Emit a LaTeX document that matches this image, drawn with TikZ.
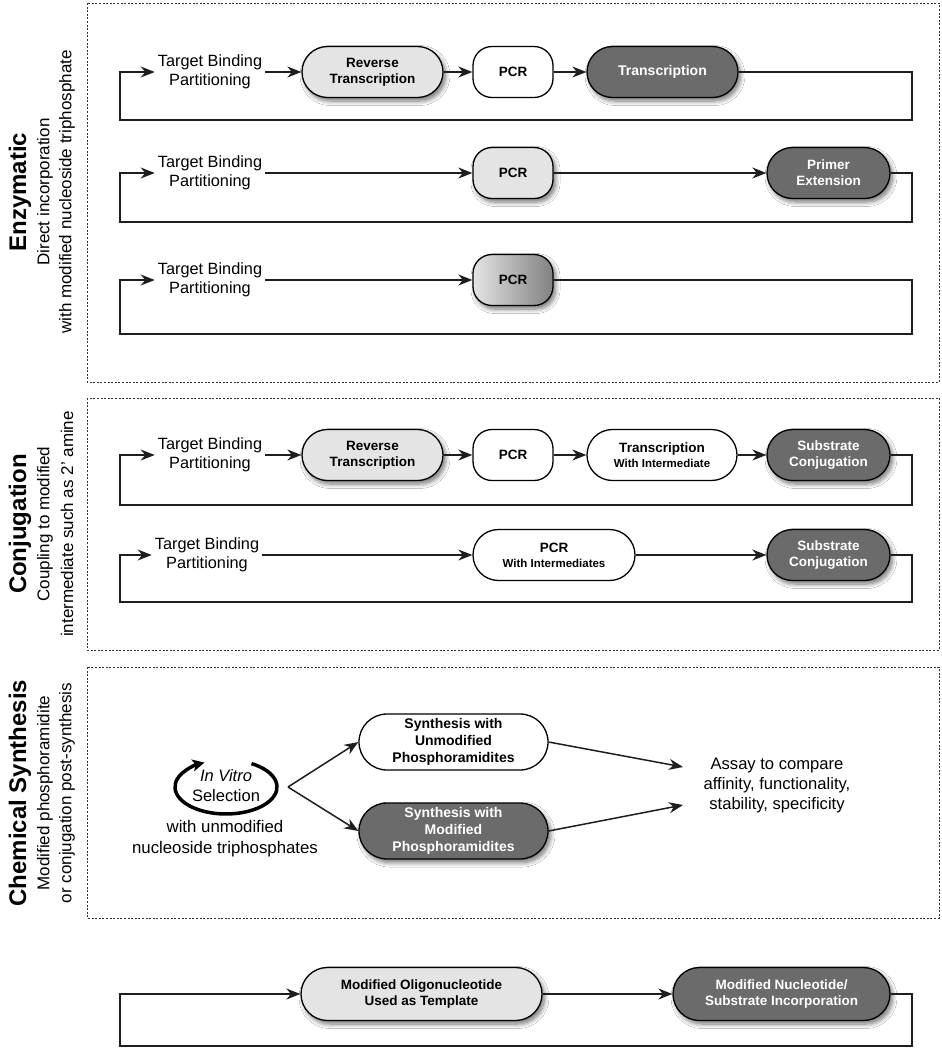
\documentclass[tikz,border=0pt]{standalone}
\usepackage{fontspec}
\setmainfont{Liberation Sans}
\usetikzlibrary{arrows.meta,shapes.misc,shadows.blur,calc}
\definecolor{lightfill}{HTML}{E4E4E4}
\definecolor{darkfill}{HTML}{6B6B6B}
\definecolor{lineclr}{HTML}{1E1E1E}
\definecolor{boxclr}{HTML}{333333}
\begin{document}
\begin{tikzpicture}[x=1pt,y=-1pt,
  base/.style={draw=black, line width=1.3pt, minimum height=51pt,
    inner sep=0pt, align=center, font=\bfseries\fontsize{13.5}{16}\selectfont},
  pill/.style={base, rounded rectangle, rounded rectangle arc length=180},
  narrow/.style={base, rectangle, rounded corners=19pt},
  shade/.style={blur shadow={shadow xshift=2.5pt, shadow yshift=-3.5pt, shadow blur radius=4.5pt, shadow blur steps=8, shadow opacity=55}},
  whitenode/.style={fill=white},
  lightnode/.style={fill=lightfill, shade},
  darknode/.style={fill=darkfill, text=white, shade},
  gradnode/.style={left color=lightfill, right color=darkfill!85, shade},
  plain/.style={align=center, inner sep=3pt, font=\fontsize{16.3}{19}\selectfont},
  title/.style={rotate=90, inner sep=0pt, font=\bfseries\fontsize{24}{28}\selectfont},
  subtitle/.style={rotate=90, inner sep=0pt, font=\fontsize{17}{20}\selectfont},
  conn/.style={draw=lineclr, line width=1.5pt, line join=miter},
  arr/.style={conn, -{Stealth[length=14pt,width=11pt,inset=4.5pt]}},
  secbox/.style={draw=boxclr, line width=0.8pt, dash pattern=on 2pt off 1.6pt}
]
\useasboundingbox (0,0) rectangle (942,1050);
\fill[white] (0,0) rectangle (942,1050);

% section boxes
\draw[secbox] (87,3) rectangle (939,382);
\draw[secbox] (87,398) rectangle (939,650);
\draw[secbox] (87,667) rectangle (939,918);

% side labels
\node[title] (tE) at (20,192) {Enzymatic};
\node[subtitle] (sE1) at (45,192) {Direct incorporation};
\node[subtitle] (sE2) at (67,192) {with modified nucleoside triphosphate};
\node[title] (tC) at (20,524) {Conjugation};
\node[subtitle] (sC1) at (45,524) {Coupling to modified};
\node[subtitle] (sC2) at (67,524) {intermediate such as 2' amine};
\node[title] (tS) at (20,793) {Chemical Synthesis};
\node[subtitle] (sS1) at (45,793) {Modified phosphoramidite};
\node[subtitle] (sS2) at (67,793) {or conjugation post-synthesis};

% ---------- Row 1 ----------
\node[plain] (t1) at (210,72) {Target Binding\\Partitioning};
\node[pill, lightnode, minimum width=141pt] (n1a) at (372.5,72) {Reverse\\Transcription};
\node[narrow, whitenode, minimum width=80pt] (n1b) at (513,72) {PCR};
\node[pill, darknode, minimum width=151pt, font=\bfseries\fontsize{14}{16}\selectfont] (n1c) at (662.5,72) {Transcription};
\coordinate (r1a) at (912,72); \coordinate (r1b) at (912,120);
\coordinate (l1b) at (120,120); \coordinate (l1a) at (120,72);
\draw[arr] (n1c.east) -- (r1a) -- (r1b) -- (l1b) -- (l1a) -- (t1.west);
\draw[arr] (t1.east) -- (n1a.west);
\draw[arr] (n1a.east) -- (n1b.west);
\draw[arr] (n1b.east) -- (n1c.west);

% ---------- Row 2 ----------
\node[plain] (t2) at (210,173) {Target Binding\\Partitioning};
\node[narrow, lightnode, minimum width=80pt] (n2a) at (513,173) {PCR};
\node[pill, darknode, minimum width=123pt] (n2b) at (828.5,173) {Primer\\Extension};
\coordinate (r2a) at (912,173); \coordinate (r2b) at (912,222);
\coordinate (l2b) at (120,222); \coordinate (l2a) at (120,173);
\draw[arr] (n2b.east) -- (r2a) -- (r2b) -- (l2b) -- (l2a) -- (t2.west);
\draw[arr] (t2.east) -- (n2a.west);
\draw[arr] (n2a.east) -- (n2b.west);

% ---------- Row 3 ----------
\node[plain] (t3) at (210,280) {Target Binding\\Partitioning};
\node[narrow, gradnode, minimum width=80pt] (n3a) at (513,280) {PCR};
\coordinate (r3a) at (912,280); \coordinate (r3b) at (912,334);
\coordinate (l3b) at (120,334); \coordinate (l3a) at (120,280);
\draw[arr] (n3a.east) -- (r3a) -- (r3b) -- (l3b) -- (l3a) -- (t3.west);
\draw[arr] (t3.east) -- (n3a.west);

% ---------- Row 4 ----------
\node[plain] (t4) at (210,455) {Target Binding\\Partitioning};
\node[pill, lightnode, minimum width=141pt] (n4a) at (372.5,455) {Reverse\\Transcription};
\node[narrow, whitenode, minimum width=80pt] (n4b) at (513,455) {PCR};
\node[pill, whitenode, minimum width=150pt] (n4c) at (662,455) {Transcription\\[-1pt]{\fontsize{11.5}{14}\selectfont With Intermediate}};
\node[pill, darknode, minimum width=123pt] (n4d) at (828.5,455) {Substrate\\Conjugation};
\coordinate (r4a) at (912,455); \coordinate (r4b) at (912,505);
\coordinate (l4b) at (120,505); \coordinate (l4a) at (120,455);
\draw[arr] (n4d.east) -- (r4a) -- (r4b) -- (l4b) -- (l4a) -- (t4.west);
\draw[arr] (t4.east) -- (n4a.west);
\draw[arr] (n4a.east) -- (n4b.west);
\draw[arr] (n4b.east) -- (n4c.west);
\draw[arr] (n4c.east) -- (n4d.west);

% ---------- Row 5 ----------
\node[plain] (t5) at (207,555) {Target Binding\\Partitioning};
\node[pill, whitenode, minimum width=162pt] (n5a) at (554,555) {PCR\\[-1pt]{\fontsize{11.5}{14}\selectfont With Intermediates}};
\node[pill, darknode, minimum width=123pt] (n5b) at (828.5,555) {Substrate\\Conjugation};
\coordinate (r5a) at (912,555); \coordinate (r5b) at (912,602);
\coordinate (l5b) at (120,602); \coordinate (l5a) at (120,555);
\draw[arr] (n5b.east) -- (r5a) -- (r5b) -- (l5b) -- (l5a) -- (t5.west);
\draw[arr] (t5.east) -- (n5a.west);
\draw[arr] (n5a.east) -- (n5b.west);

% ---------- Chemical synthesis ----------
\node[plain, inner sep=0pt, font=\fontsize{16.5}{20}\selectfont] (vc) at (226,786) {\itshape In Vitro\\Selection};
\coordinate (vcc) at (226,787);
\draw[line width=3.5pt, -{Stealth[length=12pt,width=12pt,inset=3pt]}]
  (vcc) ++(25.5pt,23.4pt) arc[start angle=60, end angle=-245, x radius=51pt, y radius=27pt];
\node[plain, font=\fontsize{16.8}{21}\selectfont] (vcsub) at (225,839) {with unmodified\\nucleoside triphosphates};
\coordinate (split) at (288,787);
\node[pill, whitenode, minimum width=189pt, minimum height=56pt, font=\bfseries\fontsize{14}{17}\selectfont] (un) at (453.5,742) {Synthesis with\\Unmodified\\Phosphoramidites};
\node[pill, darknode, minimum width=189pt, minimum height=56pt, font=\bfseries\fontsize{14}{17}\selectfont] (mo) at (453.5,831) {Synthesis with\\Modified\\Phosphoramidites};
\node[plain, font=\fontsize{16.6}{20}\selectfont] (assay) at (777,786) {Assay to compare\\affinity, functionality,\\stability, specificity};
\coordinate (a1) at (683,767);
\coordinate (a2) at (683,805);
\draw[arr] (split) -- (un.west);
\draw[arr] (split) -- (mo.west);
\draw[arr] (un.east) -- (a1);
\draw[arr] (mo.east) -- (a2);

% ---------- Bottom row ----------
\node[pill, lightnode, minimum width=241pt, minimum height=53pt] (ol) at (421.5,994) {Modified Oligonucleotide\\Used as Template};
\node[pill, darknode, minimum width=217pt, minimum height=53pt] (nu) at (781.5,994) {Modified Nucleotide/\\Substrate Incorporation};
\coordinate (r6a) at (912,994); \coordinate (r6b) at (912,1046);
\coordinate (l6b) at (120,1046); \coordinate (l6a) at (120,994);
\draw[arr] (nu.east) -- (r6a) -- (r6b) -- (l6b) -- (l6a) -- (ol.west);
\draw[arr] (ol.east) -- (nu.west);
\end{tikzpicture}
\end{document}
